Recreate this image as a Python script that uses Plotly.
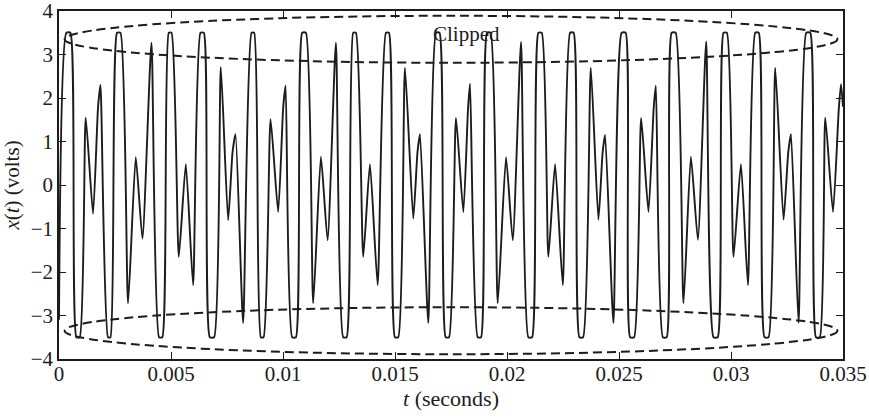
import plotly.graph_objects as go

# sample times (ms) and clipped signal values (volts)
T_MS = [
    0.000, 0.331, 0.509, 0.777, 0.925, 1.193, 1.519, 1.742, 1.850, 2.189, 2.296,
    2.591, 2.743, 3.083, 3.427, 3.726, 4.128, 4.468, 4.611, 4.901, 5.022,
    5.348, 5.661, 5.987, 6.317, 6.465, 6.733, 6.925, 7.224, 7.550, 7.747, 7.881,
    8.221, 8.596, 8.712, 9.011, 9.132, 9.445, 9.784, 10.008, 10.115, 10.410, 10.575,
    10.857, 11.022, 11.348, 11.692, 11.991, 12.362, 12.688, 12.840, 13.135, 13.256,
    13.582, 13.881, 14.225, 14.596, 14.730, 14.998, 15.146, 15.445, 15.816, 16.003, 16.115,
    16.486, 16.830, 16.986, 17.263, 17.411, 17.723, 18.050, 18.260, 18.349, 18.693, 18.840,
    19.108, 19.265, 19.586, 19.957, 20.257, 20.627, 20.954, 21.119, 21.400, 21.552,
    21.847, 22.146, 22.490, 22.817, 22.973, 23.232, 23.397, 23.741, 24.081, 24.269, 24.380,
    24.751, 25.117, 25.296, 25.497, 25.676, 25.989, 26.315, 26.547, 26.645, 26.958, 27.128,
    27.351, 27.530, 27.879, 28.209, 28.522, 28.893, 29.219, 29.406, 29.666, 29.817,
    30.112, 30.443, 30.756, 31.082, 31.238, 31.497, 31.676, 31.975, 32.346, 32.556, 32.677,
    33.016, 33.360, 33.539, 33.794, 33.964, 34.209, 34.553, 34.812, 34.911, 35.000,
]
X_VOLTS = [
    -3.10, 3.50, 3.50, -3.50, -3.50, 1.55, -0.66, 1.78, 2.30, -3.50, -3.50,
    3.50, 3.50, -2.72, 0.64, -1.23, 3.27, -3.50, -3.50, 3.50, 3.50,
    -1.65, 0.48, -2.30, 3.50, 3.50, -3.50, -3.50, 2.71, -0.81, 0.75, 1.17,
    -3.17, 3.50, 3.50, -3.50, -3.50, 1.51, -0.62, 1.78, 2.28, -3.50, -3.50,
    3.50, 3.50, -2.72, 0.65, -1.27, 3.27, -3.50, -3.50, 3.50, 3.50,
    -1.65, 0.48, -2.30, 3.50, 3.50, -3.50, -3.50, 2.69, -0.77, 0.75, 1.17,
    -3.17, 3.50, 3.50, -3.50, -3.50, 1.54, -0.62, 1.75, 2.33, -3.50, -3.50,
    3.50, 3.50, -2.72, 0.64, -1.27, 3.29, -3.50, -3.50, 3.50, 3.50,
    -1.65, 0.48, -2.30, 3.50, 3.50, -3.50, -3.50, 2.69, -0.80, 0.75, 1.15,
    -3.17, 3.50, 3.50, -3.50, -3.50, 1.54, -0.62, 1.75, 2.28, -3.50, -3.50,
    3.50, 3.50, -2.72, 0.65, -1.26, 3.30, -3.50, -3.50, 3.50, 3.50,
    -1.65, 0.48, -2.30, 3.50, 3.50, -3.50, -3.50, 2.69, -0.80, 0.75, 1.17,
    -3.17, 3.50, 3.50, -3.50, -3.50, 1.55, -0.62, 1.75, 2.32, 1.80,
]

X_TICKS = [0, 0.005, 0.01, 0.015, 0.02, 0.025, 0.03, 0.035]
X_TICK_TEXT = ["0", "0.005", "0.01", "0.015", "0.02", "0.025", "0.03", "0.035"]
Y_TICKS = [-4, -3, -2, -1, 0, 1, 2, 3, 4]

# dashed ellipses marking the clipped regions
ELLIPSE_T = (0.00025, 0.03475)
ELLIPSE_TOP = (2.81, 3.89)
ELLIPSE_BOTTOM = (-3.89, -2.81)

FONT = "Liberation Serif, Times New Roman, serif"
INK = "#1c1c1c"

t_sec = [v / 1000 for v in T_MS]

fig = go.Figure()
fig.add_trace(go.Scatter(x=t_sec, y=X_VOLTS, mode="lines",
                         line=dict(color=INK, width=1.9, shape="spline", smoothing=0.55),
                         showlegend=False, hoverinfo="skip"))

for y0, y1 in (ELLIPSE_TOP, ELLIPSE_BOTTOM):
    fig.add_shape(type="circle", xref="x", yref="y",
                  x0=ELLIPSE_T[0], x1=ELLIPSE_T[1], y0=y0, y1=y1,
                  line=dict(color=INK, width=2, dash="9px,5px"))

fig.add_annotation(x=0.0182, y=3.48, text="Clipped", showarrow=False,
                   font=dict(family=FONT, size=21, color=INK))

axis_common = dict(showline=True, linecolor=INK, linewidth=1.5, mirror="ticks",
                   ticks="inside", ticklen=7, tickwidth=1.2, tickcolor=INK,
                   showgrid=False, zeroline=False, automargin=False,
                   ticklabeloverflow="allow",
                   tickfont=dict(family=FONT, size=21, color=INK))

fig.update_xaxes(range=[0, 0.035], tickvals=X_TICKS, ticktext=X_TICK_TEXT,
                 ticklabelstandoff=-5,
                 title=dict(text="<i>t</i> (seconds)", standoff=4,
                            font=dict(family=FONT, size=22, color=INK)),
                 **axis_common)
fig.update_yaxes(range=[-4, 4], tickvals=Y_TICKS,
                 title=dict(text="<i>x</i>(<i>t</i>) (volts)", standoff=13,
                            font=dict(family=FONT, size=21, color=INK)),
                 **axis_common)

fig.update_layout(width=869, height=419,
                  margin=dict(l=59, r=26, t=11, b=60),
                  plot_bgcolor="white", paper_bgcolor="white")

# drop the browser's default 8px body margin so the figure sits at the window corner
fig.write_html("out.html", config={"displayModeBar": False},
               post_script="document.body.style.margin = '0';")
